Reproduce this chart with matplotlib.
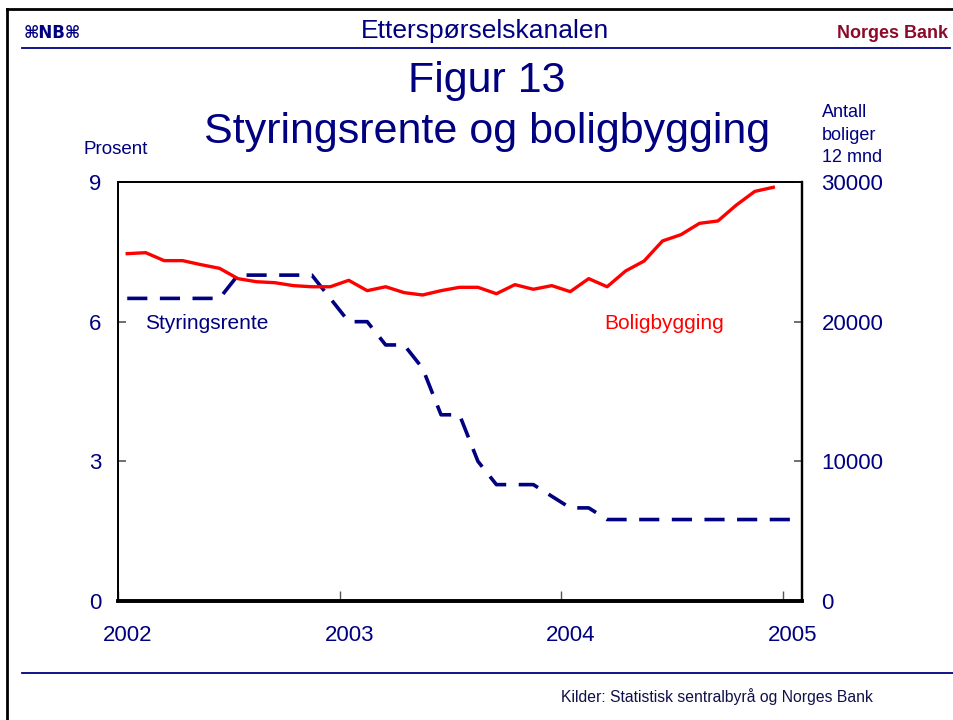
import matplotlib
matplotlib.use("Agg")
import matplotlib.pyplot as plt
from matplotlib.lines import Line2D
from matplotlib.transforms import ScaledTranslation
import numpy as np

plt.rcParams['font.family'] = ['Liberation Sans', 'DejaVu Sans']
plt.rcParams['lines.scale_dashes'] = False

NAVY = '#000080'
RED = '#ff0000'

# Monthly data, Jan 2002 onward
rate_values = [6.5, 6.5, 6.5, 6.5, 6.5, 6.5, 7.0, 7.0, 7.0, 7.0, 7.0, 6.5,
               6.0, 6.0, 5.5, 5.5, 5.0, 4.0, 4.0, 3.0, 2.5, 2.5, 2.5, 2.25,
               2.0, 2.0, 1.75, 1.75, 1.75, 1.75, 1.75, 1.75, 1.75, 1.75, 1.75, 1.75,
               1.75]
housing_values = [24870, 24940, 24370, 24370, 24080, 23820, 23080, 22860, 22790, 22580, 22500, 22500,
                  22960, 22220, 22500, 22080, 21910, 22220, 22460, 22460, 22000, 22650, 22320, 22580,
                  22150, 23080, 22500, 23630, 24340, 25780, 26230, 27040, 27210, 28350, 29330, 29620]
start_year = 2002
x_ticks = [2003, 2004, 2005]
x_ticklabels = ['2003', '2004', '2005']
left_ticks = [0, 3, 6, 9]
right_ticks = [0, 10000, 20000, 30000]

def month_pos(n):
    return start_year + (np.arange(n) + 0.5) / 12.0

x_rate = month_pos(len(rate_values))
x_house = month_pos(len(housing_values))

fig = plt.figure(figsize=(9.54, 7.2), dpi=100)
ax = fig.add_axes([118/954, 1-601/720, (802-118)/954, (601-182)/720])
ax2 = ax.twinx()

line_b, = ax.plot(x_rate, rate_values, color=NAVY, lw=2.6, solid_capstyle='butt')
line_b.set_dashes((14.5, 9.0))
ax2.plot(x_house, housing_values, color=RED, lw=2.4)

ax.set_xlim(2002.0, 2005.088)
ax.set_ylim(0, 9)
ax2.set_ylim(0, 30000)

ax.set_yticks(left_ticks)
ax.set_yticklabels([str(t) for t in left_ticks])
ax2.set_yticks(right_ticks)
ax2.set_yticklabels([str(t) for t in right_ticks])
ax.set_xticks([2002] + x_ticks)
ax.set_xticklabels(['2002'] + x_ticklabels)

ax.tick_params(axis='y', direction='in', length=6, width=1.2, color='#555555',
               labelsize=16, labelcolor=NAVY, pad=12)
ax2.tick_params(axis='y', direction='in', length=6, width=1.2, color='#555555',
                labelsize=16, labelcolor=NAVY, pad=14)
ax.tick_params(axis='x', direction='in', length=7, width=1.0, color='#555555',
               labelsize=16, labelcolor=NAVY, pad=17)
for lab in ax.get_xticklabels():
    lab.set_transform(lab.get_transform() + ScaledTranslation(10/100, 0, fig.dpi_scale_trans))

for a in (ax, ax2):
    a.spines['left'].set_linewidth(1.3)
    a.spines['top'].set_linewidth(1.3)
    a.spines['right'].set_linewidth(1.6)
    a.spines['bottom'].set_linewidth(2.6)
    for s in a.spines.values():
        s.set_color('black')

# Labels inside the plot
ax.text(0.04, 0.662, 'Styringsrente', transform=ax.transAxes, color=NAVY, fontsize=15,
        ha='left', va='center')
ax.text(0.7105, 0.662, 'Boligbygging', transform=ax.transAxes, color=RED, fontsize=15,
        ha='left', va='center')

# Axis unit labels
fig.text(84/954, 1-150/720, 'Prosent', color=NAVY, fontsize=13.5, ha='left', va='center')
fig.text(822/954, 1-135/720, 'Antall\nboliger\n12 mnd', color=NAVY, fontsize=13,
         ha='left', va='center', linespacing=1.45)

# Titles
fig.text(487/954, 1-81/720, 'Figur 13', color=NAVY, fontsize=31, ha='center', va='center')
fig.text(487/954, 1-132/720, 'Styringsrente og boligbygging', color=NAVY, fontsize=31,
         ha='center', va='center')

# Header
fig.text(485/954, 1-31/720, 'Etterspørselskanalen', color=NAVY, fontsize=19,
         ha='center', va='center')
fig.text(24/954, 1-33/720, '⌘NB⌘', color=NAVY, fontsize=12, fontweight='bold',
         ha='left', va='center', family=['DejaVu Sans'])
fig.text(948/954, 1-33/720, 'Norges Bank', color='#8b0a2a', fontsize=13, fontweight='bold',
         ha='right', va='center')

# Footer
fig.text(873/954, 1-697/720, 'Kilder: Statistisk sentralbyrå og Norges Bank', color='#10104a',
         fontsize=11.3, ha='right', va='center')

# Frame and rules
fig.add_artist(Line2D([7/954, 1.0], [1-9/720, 1-9/720], color='black', lw=2.0, transform=fig.transFigure))
fig.add_artist(Line2D([7/954, 7/954], [0, 1-9/720], color='black', lw=2.0, transform=fig.transFigure))
fig.add_artist(Line2D([22/954, 950/954], [1-48/720, 1-48/720], color=NAVY, lw=1.3, transform=fig.transFigure))
fig.add_artist(Line2D([22/954, 1.0], [1-673/720, 1-673/720], color=NAVY, lw=1.3, transform=fig.transFigure))

fig.savefig('out.png', dpi=100)
